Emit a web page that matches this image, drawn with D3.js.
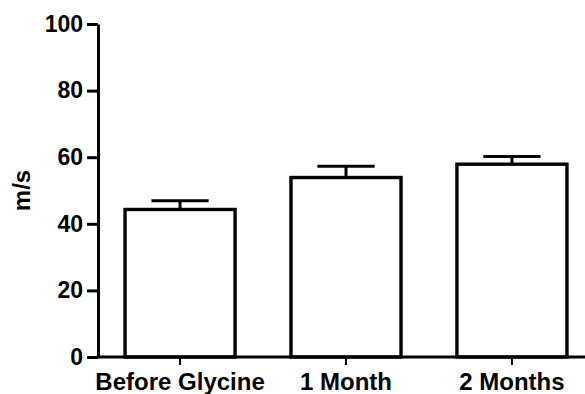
<!DOCTYPE html>
<html>
<head>
<meta charset="utf-8">
<script src="https://cdn.jsdelivr.net/npm/d3@7"></script>
<style>
  html, body { margin: 0; padding: 0; background: #fff; }
  svg { display: block; }
  text { font-family: "Liberation Sans", Arial, sans-serif; font-weight: bold; fill: #000; }
</style>
</head>
<body>
<svg id="chart" width="585" height="394"></svg>
<script>
const categories = ["Before Glycine", "1 Month", "2 Months"];
const means = [44.3, 53.9, 57.9];
const errors = [2.6, 3.4, 2.3];
const yTicks = [0, 20, 40, 60, 80, 100];
const yLabel = "m/s";

const W = 585, H = 394;
const svg = d3.select("#chart");

const y = d3.scaleLinear().domain([0, 100]).range([357, 24]);
const x = d3.scaleBand().domain(categories).range([98, 594])
  .paddingInner(0.337).paddingOuter(0.163);

const data = categories.map((c, i) => ({ c, m: means[i], e: errors[i] }));

// bars
svg.append("g").selectAll("rect").data(data).join("rect")
  .attr("x", d => x(d.c))
  .attr("y", d => y(d.m))
  .attr("width", x.bandwidth())
  .attr("height", d => y(0) - y(d.m))
  .attr("fill", "#fff")
  .attr("stroke", "#000")
  .attr("stroke-width", 3.4);

// error bars (upper only)
const capW = x.bandwidth() * 0.52;
const eg = svg.append("g").attr("stroke", "#000").attr("stroke-width", 3);
eg.selectAll("line.v").data(data).join("line").attr("class", "v")
  .attr("x1", d => x(d.c) + x.bandwidth() / 2)
  .attr("x2", d => x(d.c) + x.bandwidth() / 2)
  .attr("y1", d => y(d.m))
  .attr("y2", d => y(d.m + d.e));
eg.selectAll("line.h").data(data).join("line").attr("class", "h")
  .attr("x1", d => x(d.c) + x.bandwidth() / 2 - capW / 2)
  .attr("x2", d => x(d.c) + x.bandwidth() / 2 + capW / 2)
  .attr("y1", d => y(d.m + d.e))
  .attr("y2", d => y(d.m + d.e));

// y axis
const yAxis = svg.append("g").attr("transform", "translate(98,0)")
  .call(d3.axisLeft(y).tickValues(yTicks).tickSize(11).tickSizeOuter(0).tickPadding(4));
yAxis.select(".domain").attr("stroke-width", 3).attr("stroke", "#000");
yAxis.selectAll(".tick line").attr("stroke-width", 3).attr("stroke", "#000");
yAxis.selectAll(".tick text").style("font-size", "23px").style("font-family", "'Liberation Sans', Arial, sans-serif").style("font-weight", "bold").attr("fill", "#000");

// x axis
const xAxis = svg.append("g").attr("transform", "translate(0,357)")
  .call(d3.axisBottom(x).tickSize(8).tickSizeOuter(0).tickPadding(8));
xAxis.select(".domain").remove();
xAxis.append("line").attr("x1", 96.5).attr("x2", W).attr("y1", 0).attr("y2", 0)
  .attr("stroke", "#000").attr("stroke-width", 3);
xAxis.selectAll(".tick line").attr("stroke-width", 2).attr("stroke", "#000");
xAxis.selectAll(".tick text").style("font-size", "24px").style("font-family", "'Liberation Sans', Arial, sans-serif").style("font-weight", "bold").attr("fill", "#000");

// y label
svg.append("text")
  .attr("transform", `translate(30,${(y(0) + y(100)) / 2}) rotate(-90)`)
  .attr("text-anchor", "middle")
  .style("font-size", "24px")
  .text(yLabel);
</script>
</body>
</html>
